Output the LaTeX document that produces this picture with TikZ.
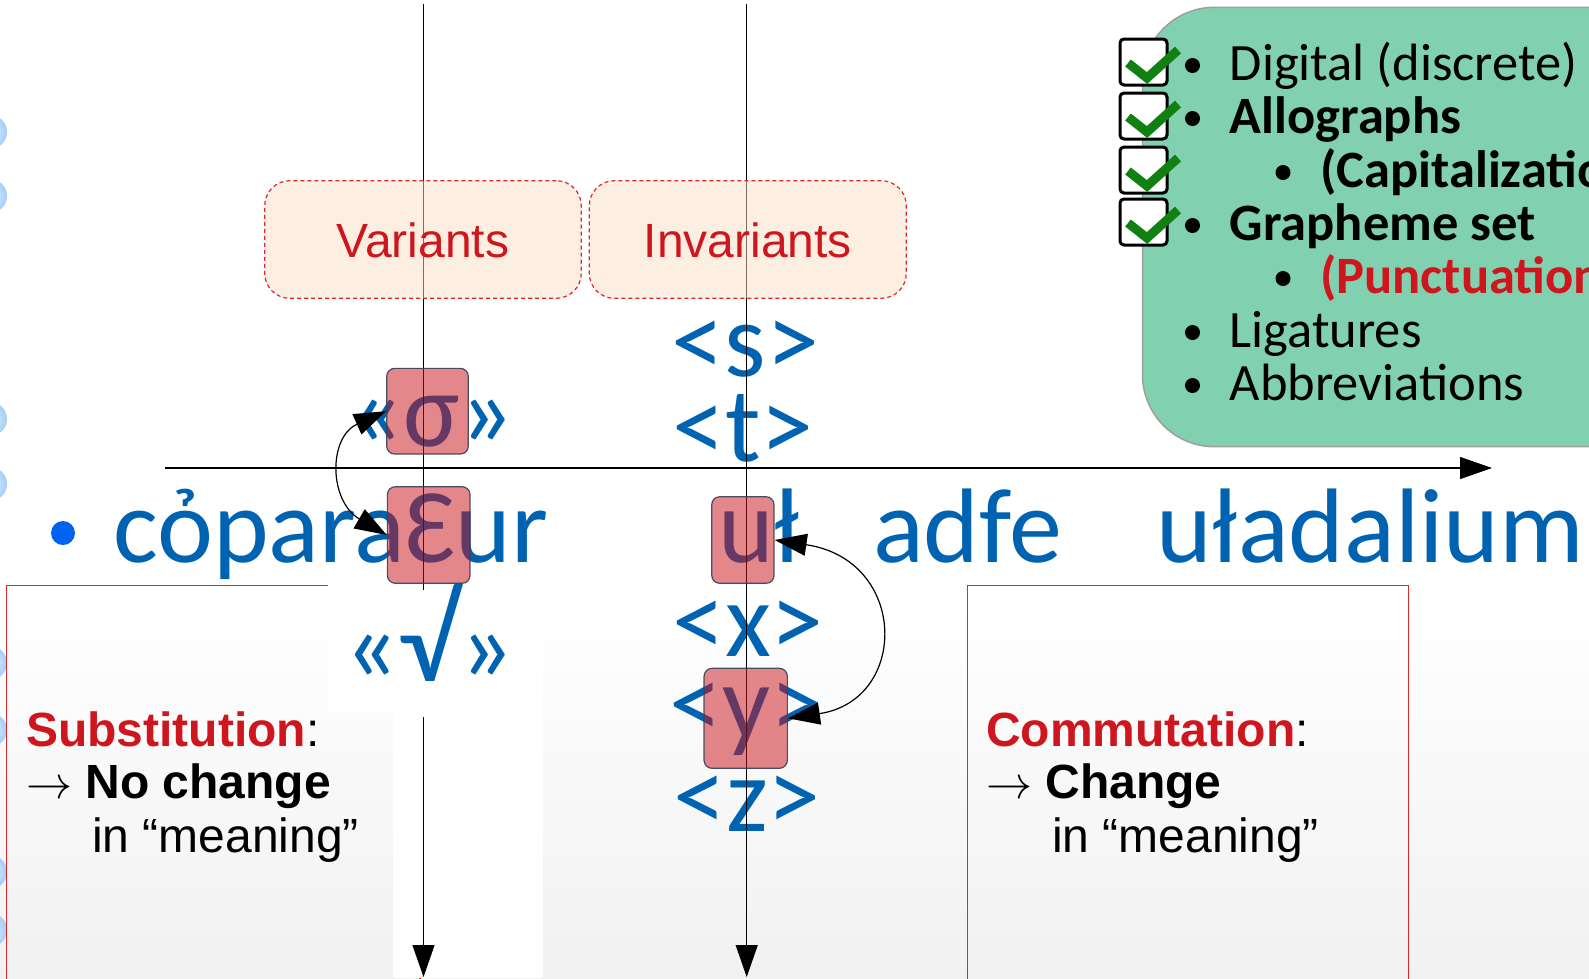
\documentclass[tikz,border=0pt]{standalone}
\usepackage{fontspec}
\usepackage{graphicx}
\setmainfont{Carlito}
\newfontfamily\calfont{Carlito}
\newfontfamily\arialfont{Liberation Sans}
\usetikzlibrary{arrows.meta}
\definecolor{tblue}{RGB}{0,99,177}
\definecolor{tred}{RGB}{206,22,30}
\definecolor{bulletblue}{RGB}{0,98,240}
\definecolor{boxgreen}{RGB}{129,209,176}
\definecolor{peach}{RGB}{251,225,199}
\definecolor{hlred}{RGB}{202,17,25}
\definecolor{hlborder}{RGB}{55,65,85}
\definecolor{checkgreen}{RGB}{16,128,16}
\definecolor{bgray}{RGB}{241,241,241}
\definecolor{bubblein}{RGB}{228,242,255}
\definecolor{bubbleout}{RGB}{165,205,248}
\definecolor{boxred}{RGB}{220,40,45}
\newcommand{\bigarrow}{{\fontsize{10}{12}\selectfont\scalebox{4.6}{$\rightarrow$}}}
\tikzset{
  big/.style={inner sep=0pt, text=tblue, font=\calfont\fontsize{106}{120}\selectfont},
  hl/.style={draw=hlborder, line width=1.2pt, fill=hlred, fill opacity=0.5, draw opacity=0.9, rounded corners=8pt, inner sep=0pt},
  lab/.style={draw=boxred, line width=1.2pt, dash pattern=on 4pt off 3pt, fill=peach, fill opacity=0.5, rounded corners=25pt, inner sep=0pt},
  labtext/.style={inner sep=0pt, anchor=base, text=tred, font=\arialfont\fontsize{48}{56}\selectfont},
  gtext/.style={inner sep=0pt, anchor=base west, font=\calfont\fontsize{52.5}{56}\selectfont},
  stext/.style={inner sep=0pt, anchor=base west, font=\arialfont\fontsize{48}{54}\selectfont},
  arr/.style={-{Triangle[length=32pt,width=22pt]}, line width=1.2pt},
  dbl/.style={{Triangle[length=32pt,width=22pt]}-{Triangle[length=32pt,width=22pt]}, line width=1.2pt},
  chk/.style={draw=black, line width=3pt, fill=white, rounded corners=4pt},
  checkmark/.style={draw=checkgreen, line width=9pt},
  bubble/.style={inner color=bubblein, outer color=bubbleout},
  redframe/.style={draw=boxred, line width=1.2pt},
}
\begin{document}
\begin{tikzpicture}[x=1pt,y=-1pt]
\useasboundingbox (0,0) rectangle (1589,978);
\clip (0,0) rectangle (1589,978);
\fill[white] (0,0) rectangle (1589,978);
\shade[top color=white, bottom color=bgray] (0,600) rectangle (1589,978);
% bubbles at the left edge
\foreach \yy in {132,196,419,484,663,730,872,930}
  \shade[bubble] (-10,\yy) circle[radius=17];
% red frames
\draw[redframe] (6.5,585.5) rectangle (420,1000);
\draw[redframe] (967.2,585.4) rectangle (1408.4,1000);
% white covers
\fill[white] (328,578) rectangle (543,712);
\fill[white] (393,700) rectangle (543,978);
% main row
\fill[bulletblue] (63,533) circle[radius=12];
\node[big, anchor=base west] (w1) at (113,562) {cỏparaƐur};
\node[big, anchor=base west] (w2) at (718,562) {uł};
\node[big, anchor=base west] (w3) at (873,562) {adfe};
\node[big, anchor=base west] (w4) at (1156,562) {uładalium};
% variants column
\node[big, anchor=base] (g1) at (431.5,446) {«σ»};
\node[big, anchor=base] (g2) at (429,681) {«{\fontsize{121}{121}\selectfont√}»};
% invariants column
\node[big, anchor=base] (i1) at (745.5,376) {<s>};
\node[big, anchor=base] (i2) at (743,461) {<t>};
\node[big, anchor=base] (i3) at (748,656) {<x>};
\node[big, anchor=base] (i4) at (746.7,738) {<y>};
\node[big, anchor=base] (i5) at (747,831) {<z>};
% substitution / commutation
\node[stext] (sub1) at (26,746) {\textcolor{tred}{\bfseries Substitution}:};
\node[stext] (sub2) at (26,798.5) {\bigarrow{} \bfseries No change};
\node[stext] (sub3) at (92,852) {in “meaning”};
\node[stext] (com1) at (986,746) {\textcolor{tred}{\bfseries Commutation}:};
\node[stext] (com2) at (986,798.5) {\bigarrow{} \bfseries Change};
\node[stext] (com3) at (1052,852) {in “meaning”};
% axes
\coordinate (h0) at (165,468);
\coordinate (h1) at (1492,468);
\coordinate (v1a) at (423.5,4);
\coordinate (v1b) at (423.5,590);
\coordinate (v1c) at (423.5,717);
\coordinate (v1d) at (423.5,977);
\coordinate (v2a) at (746.7,4);
\coordinate (v2b) at (746.7,977);
\draw[arr] (h0) -- (h1);
\draw[line width=1.2pt] (v1a) -- (v1b);
\draw[arr] (v1c) -- (v1d);
\draw[arr] (v2a) -- (v2b);
% label boxes
\node[lab, minimum width=316.5pt, minimum height=117.6pt] (varbox) at (423,239.5) {};
\node[labtext] (vartext) at (423,257) {Variants};
\node[lab, minimum width=317pt, minimum height=117.6pt] (invbox) at (747.8,239.5) {};
\node[labtext] (invtext) at (747.8,257) {Invariants};
% highlight boxes
\node[hl, minimum width=81.6pt, minimum height=85.7pt] (sigbox) at (427.5,411.2) {};
\node[hl, minimum width=82.7pt, minimum height=96.6pt] (epsbox) at (428.7,535) {};
\node[hl, minimum width=62.3pt, minimum height=86.6pt] (ubox) at (742.9,540) {};
\node[hl, minimum width=83.3pt, minimum height=100pt] (ybox) at (745.7,718.3) {};
% curved arrows
\draw[dbl] (sigbox.west) .. controls +(-58,26) and +(-58,-34) .. (epsbox.west);
\draw[dbl] (ubox.east) .. controls +(134,20) and +(121,-18) .. (ybox.east);
% green box
\draw[fill=boxgreen, draw=gray!75, line width=1.5pt, rounded corners=72pt] (1142.5,7.3) rectangle (1700,446.7);
\foreach \yy in {39,93,147,199} {
  \draw[chk] (1120,\yy) rectangle +(47,46);
  \draw[checkmark] (1128,\yy+24) -- (1147,\yy+39) -- (1178,\yy+11);
}
\foreach \yy in {80,133,240,347,400}
  \fill (1192.5,\yy-14.5) circle[radius=7.5];
\foreach \yy in {187,293}
  \fill (1283,\yy-14.5) circle[radius=7.5];
\node[gtext] (t1) at (1229.5,80) {Digital (discrete)};
\node[gtext] (t2) at (1229.5,133) {\bfseries Allographs};
\node[gtext] (t3) at (1320,187) {\bfseries (Capitalization)};
\node[gtext] (t4) at (1229.5,240) {\bfseries Grapheme set};
\node[gtext, text=tred] (t5) at (1320,293) {\bfseries (Punctuation)};
\node[gtext] (t6) at (1229.5,347) {Ligatures};
\node[gtext] (t7) at (1229.5,400) {Abbreviations};
\end{tikzpicture}
\end{document}
